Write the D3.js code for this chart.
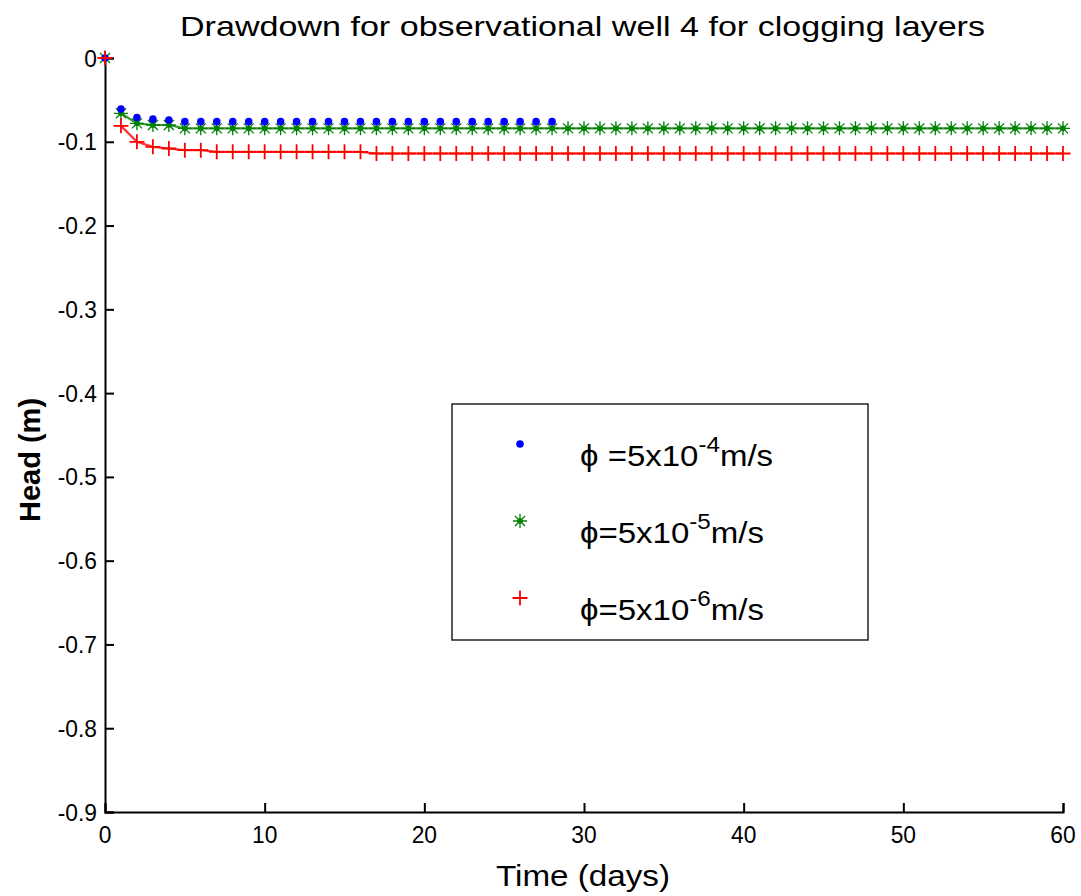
<!DOCTYPE html>
<html>
<head>
<meta charset="utf-8">
<script src="https://cdn.jsdelivr.net/npm/d3@7"></script>
<style>
  body { margin: 0; background: #fff; }
  text { font-family: "Liberation Sans", Arial, Helvetica, sans-serif; fill: #000; }
</style>
</head>
<body>
<svg id="chart" width="1081" height="896"></svg>
<script>
// days 0..60
const days = d3.range(0, 61);

// phi = 5x10^-4 (only up to day 28)
const headK4 = [0, -0.061, -0.071, -0.073, -0.074,
  -0.076, -0.076, -0.076, -0.076, -0.076, -0.076, -0.076, -0.076, -0.076, -0.076,
  -0.076, -0.076, -0.076, -0.076, -0.076, -0.076, -0.076, -0.076, -0.076, -0.076,
  -0.076, -0.076, -0.076, -0.076];

// phi = 5x10^-5
const headK5 = [0, -0.066, -0.078, -0.080, -0.080].concat(
  Array(56).fill(-0.084));

// phi = 5x10^-6
const headK6 = [0, -0.081, -0.100, -0.106, -0.108, -0.110, -0.110,
  -0.112, -0.112, -0.112, -0.112, -0.112, -0.112, -0.112, -0.112, -0.112, -0.112]
  .concat(Array(44).fill(-0.114));

const xTicks = [0, 10, 20, 30, 40, 50, 60];
const yTicks = [0, -0.1, -0.2, -0.3, -0.4, -0.5, -0.6, -0.7, -0.8, -0.9];
const yTickLabels = ["0", "-0.1", "-0.2", "-0.3", "-0.4", "-0.5", "-0.6", "-0.7", "-0.8", "-0.9"];

const legendItems = [
  { sym: "dot", color: "#0000ff", pre: "\u03d5 =5x10", exp: "-4", post: "m/s" },
  { sym: "star", color: "#008000", pre: "\u03d5=5x10", exp: "-5", post: "m/s" },
  { sym: "plus", color: "#ff0000", pre: "\u03d5=5x10", exp: "-6", post: "m/s" }
];

const svg = d3.select("#chart");

const x = d3.scaleLinear().domain([0, 60]).range([105, 1063]);
const y = d3.scaleLinear().domain([-0.9, 0]).range([812, 58]);

// axes (only left and bottom, ticks inward)
const xAxis = svg.append("g")
  .attr("transform", "translate(0,812)")
  .call(d3.axisTop(x).tickValues(xTicks).tickSize(9).tickFormat(""));
const yAxis = svg.append("g")
  .attr("transform", "translate(105,0)")
  .call(d3.axisRight(y).tickValues(yTicks).tickSize(9).tickFormat(""));
[xAxis, yAxis].forEach(g => {
  g.selectAll("path").attr("stroke", "#000").attr("stroke-width", 2);
  g.selectAll("line").attr("stroke", "#000").attr("stroke-width", 2);
});

svg.selectAll(".xlab")
  .data(xTicks)
  .enter().append("text")
  .attr("class", "xlab")
  .attr("transform", d => `translate(${x(d)},843) scale(0.95,1)`)
  .attr("text-anchor", "middle")
  .style("font-size", "24px")
  .text(d => d);

svg.selectAll(".ylab")
  .data(yTicks)
  .enter().append("text")
  .attr("class", "ylab")
  .attr("transform", d => `translate(97,${y(d) + 8.5}) scale(0.95,1)`)
  .attr("text-anchor", "end")
  .style("font-size", "24px")
  .text((d, i) => yTickLabels[i]);

// titles
svg.append("text")
  .attr("x", 180).attr("y", 36)
  .attr("textLength", 805)
  .attr("lengthAdjust", "spacingAndGlyphs")
  .style("font-size", "28px")
  .text("Drawdown for observational well 4 for clogging layers");

svg.append("text")
  .attr("x", 496).attr("y", 886)
  .attr("textLength", 174)
  .attr("lengthAdjust", "spacingAndGlyphs")
  .style("font-size", "30px")
  .text("Time (days)");

svg.append("text")
  .attr("transform", "translate(40,460) rotate(-90)")
  .attr("text-anchor", "middle")
  .style("font-size", "29px")
  .style("font-weight", "bold")
  .text("Head (m)");

// marker shapes
function marker(g, sym, color) {
  if (sym === "dot") {
    g.append("circle").attr("r", 3.8).attr("fill", color);
  } else if (sym === "star") {
    const s = 7, d = 5;
    g.append("path")
      .attr("d", `M${-s},0H${s}M0,${-s}V${s}M${-d},${-d}L${d},${d}M${-d},${d}L${d},${-d}`)
      .attr("stroke", color).attr("stroke-width", 1.3).attr("fill", "none");
    g.append("circle").attr("r", 2.8).attr("fill", color);
  } else {
    const s = 7.5;
    g.append("path")
      .attr("d", `M${-s},0H${s}M0,${-s}V${s}`)
      .attr("stroke", color).attr("stroke-width", 1.8).attr("fill", "none");
  }
}

const line = d3.line()
  .defined((d, i) => i > 0)
  .x((d, i) => x(days[i]))
  .y(d => y(d));

function drawSeries(values, sym, color, withLine) {
  if (withLine) {
    svg.append("path")
      .datum(values)
      .attr("d", line)
      .attr("fill", "none")
      .attr("stroke", color)
      .attr("stroke-opacity", 0.8)
      .attr("stroke-width", 2.2);
  }
  svg.append("g").selectAll("g")
    .data(values)
    .enter().append("g")
    .attr("transform", (d, i) => `translate(${x(days[i])},${y(d)})`)
    .each(function () { marker(d3.select(this), sym, color); });
}

drawSeries(headK5, "star", "#008000", true);
drawSeries(headK4, "dot", "#0000ff", false);
drawSeries(headK6, "plus", "#ff0000", true);

// legend
const legend = svg.append("g");
legend.append("rect")
  .attr("x", 452).attr("y", 404)
  .attr("width", 416).attr("height", 236)
  .attr("fill", "#fff")
  .attr("stroke", "#222").attr("stroke-width", 1.5);

legendItems.forEach((it, i) => {
  const cy = 444 + i * 77;
  const g = legend.append("g").attr("transform", `translate(520,${cy})`);
  marker(g, it.sym, it.color);
  const t = legend.append("text")
    .attr("transform", `translate(580,${cy + 22}) scale(1.1,1)`)
    .style("font-size", "30px");
  t.append("tspan").text(it.pre);
  t.append("tspan").attr("dy", -14).style("font-size", "22px").text(it.exp);
  t.append("tspan").attr("dy", 14).text(it.post);
});
</script>
</body>
</html>
